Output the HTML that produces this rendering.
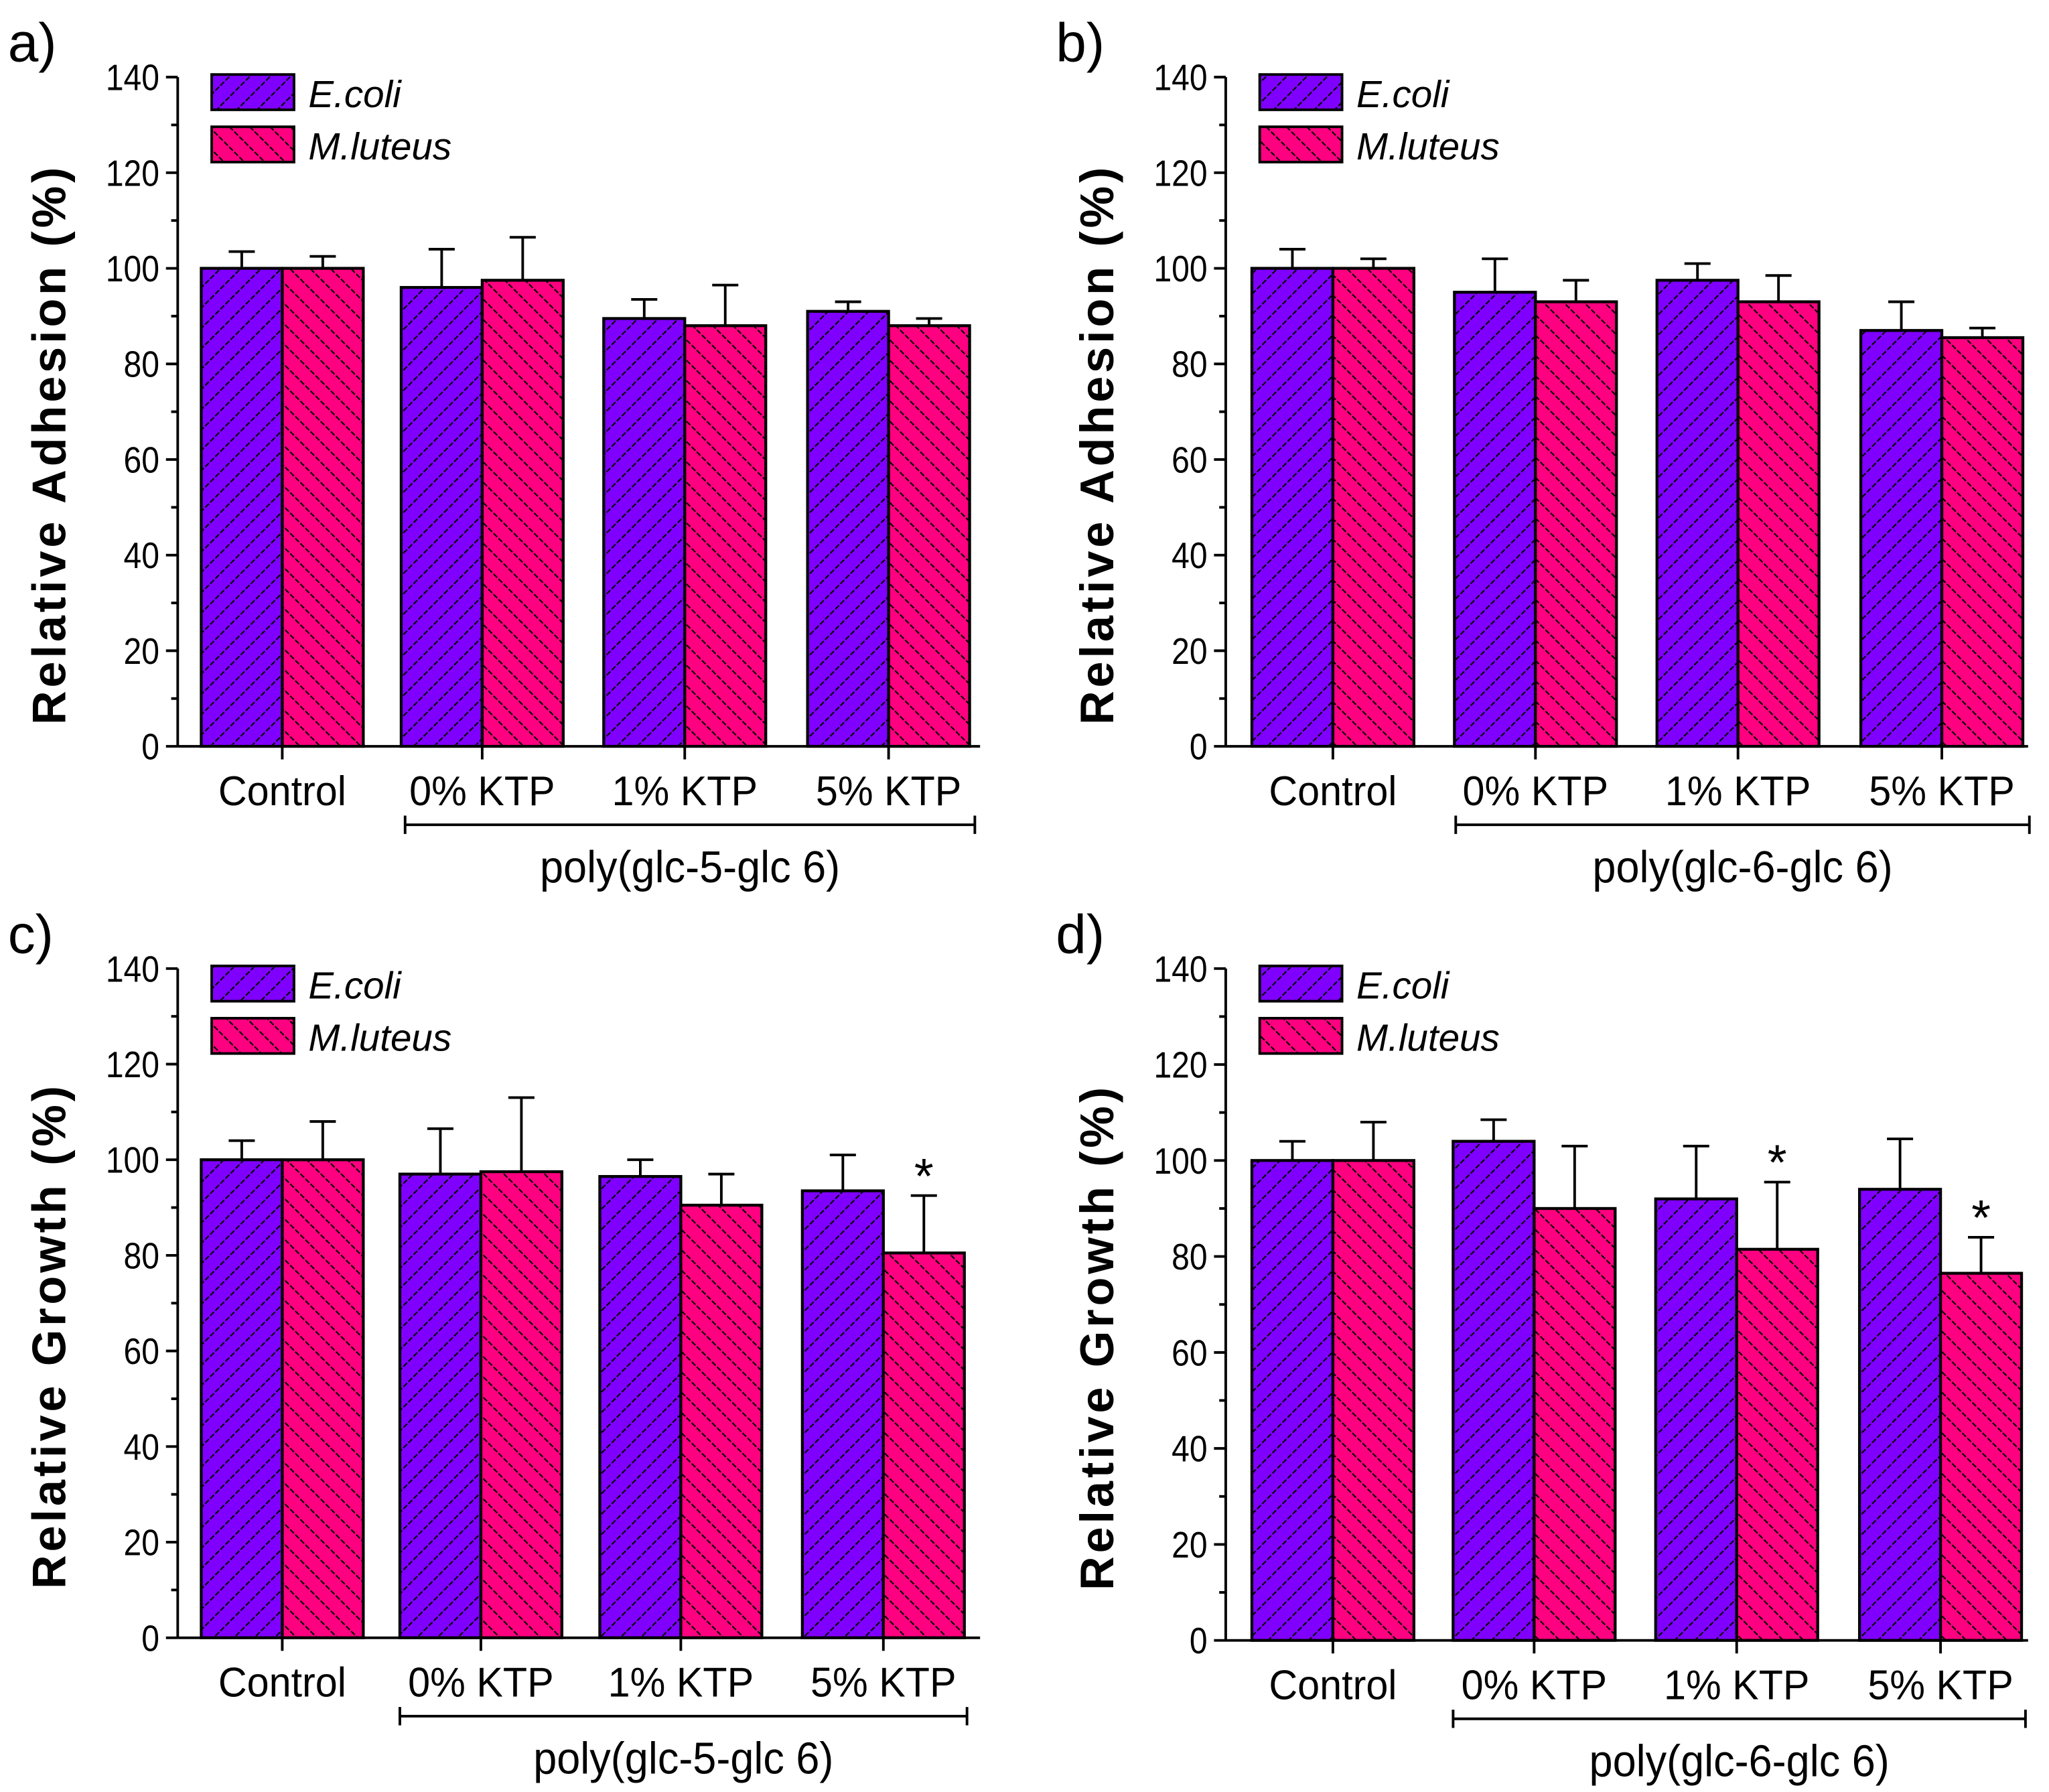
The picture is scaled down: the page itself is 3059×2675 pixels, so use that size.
<!DOCTYPE html>
<html><head><meta charset="utf-8"><style>
html,body{margin:0;padding:0;background:#fff}
svg{display:block}
text{font-family:"Liberation Sans",sans-serif;fill:#000}
</style></head><body>
<svg id="fig" width="3059" height="2675" viewBox="0 0 1568 1371" preserveAspectRatio="none" xmlns="http://www.w3.org/2000/svg">
<defs>
<pattern id="hp" patternUnits="userSpaceOnUse" width="11" height="11" patternTransform="rotate(45)"><rect width="11" height="11" fill="#8000FF"/><line x1="0" y1="0" x2="0" y2="11" stroke="#000" stroke-width="2.2" stroke-dasharray="4,1.5"/></pattern>
<pattern id="hm" patternUnits="userSpaceOnUse" width="11" height="11" patternTransform="rotate(-45)"><rect width="11" height="11" fill="#FF0080"/><line x1="0" y1="0" x2="0" y2="11" stroke="#000" stroke-width="2.2" stroke-dasharray="4,1.5"/></pattern>
</defs>
</svg>
<script>
const categories = ["Control","0% KTP","1% KTP","5% KTP"];
const yTicks = [0,20,40,60,80,100,120,140];
const seriesNames = ["E.coli","M.luteus"];
const aEcoli = [100,96,89.5,91];
const aEcoliTop = [103.5,104,93.5,93];
const aMlut = [100,97.5,88,88];
const aMlutTop = [102.5,106.5,96.5,89.5];
const bEcoli = [100,95,97.5,87];
const bEcoliTop = [104,102,101,93];
const bMlut = [100,93,93,85.5];
const bMlutTop = [102,97.5,98.5,87.5];
const cEcoli = [100,97,96.5,93.5];
const cEcoliTop = [104,106.5,100,101];
const cMlut = [100,97.5,90.5,80.5];
const cMlutTop = [108,113,97,92.5];
const cStars = [false,false,false,true];
const dEcoli = [100,104,92,94];
const dEcoliTop = [104,108.5,103,104.5];
const dMlut = [100,90,81.5,76.5];
const dMlutTop = [108,103,95.5,84];
const dStars = [false,false,true,true];
const noStars = [false,false,false,false];

const NS="http://www.w3.org/2000/svg";
const svg=document.getElementById('fig');
function mk(tag,attrs,parent,txt){const e=document.createElementNS(NS,tag);for(const k in attrs)e.setAttribute(k,attrs[k]);if(txt!==undefined)e.textContent=txt;(parent||svg).appendChild(e);return e;}

const panels=[
 {id:'a',x0:136,x1:750,y0:571,y1:59,centers:[216,369,524,680],e:aEcoli,et:aEcoliTop,m:aMlut,mt:aMlutTop,stars:noStars,title:"Relative Adhesion (%)",poly:"poly(glc-5-glc 6)",bx0:310,bx1:746},
 {id:'b',x0:938,x1:1552,y0:571,y1:59,centers:[1020,1175,1330,1486],e:bEcoli,et:bEcoliTop,m:bMlut,mt:bMlutTop,stars:noStars,title:"Relative Adhesion (%)",poly:"poly(glc-6-glc 6)",bx0:1114,bx1:1553},
 {id:'c',x0:136,x1:750,y0:1253,y1:741,centers:[216,368,521,676],e:cEcoli,et:cEcoliTop,m:cMlut,mt:cMlutTop,stars:cStars,title:"Relative Growth (%)",poly:"poly(glc-5-glc 6)",bx0:306,bx1:740},
 {id:'d',x0:938,x1:1552,y0:1255,y1:741,centers:[1020,1174,1329,1485],e:dEcoli,et:dEcoliTop,m:dMlut,mt:dMlutTop,stars:dStars,title:"Relative Growth (%)",poly:"poly(glc-6-glc 6)",bx0:1112,bx1:1550}
];
const bw=62;
panels.forEach(p=>{
 const g=mk('g',{});
 
 
 const ys=v=>p.y0-(v/140)*(p.y0-p.y1);
 const lab=mk('text',{x:p.x0-130,y:p.y1-12,'font-size':42},g,p.id+')');
 
 
 for(let i=0;i<categories.length;i++){
  const c=p.centers[i];
  const specs=[[p.e[i],p.et[i],c-bw,'url(#hp)','ecoli'],[p.m[i],p.mt[i],c,'url(#hm)','mluteus']];
  specs.forEach((s,j)=>{
   const yv=ys(s[0]),yt=ys(s[1]),cx=s[2]+bw/2;
   const el=mk('line',{x1:cx,x2:cx,y1:yv,y2:yt,stroke:'#000','stroke-width':2},g);
   
   
   const cap=mk('line',{x1:cx-10,x2:cx+10,y1:yt,y2:yt,stroke:'#000','stroke-width':2},g);
   
   
   const r=mk('rect',{x:s[2],y:yv,width:bw,height:p.y0-yv,fill:s[3],stroke:'#000','stroke-width':2.2},g);
   
   
   if(j===1&&p.stars[i]){
    const st=mk('text',{x:cx,y:yt-2,'font-size':38,'text-anchor':'middle'},g,'*');
    
    
   }
  });
  const tk=mk('line',{x1:c,x2:c,y1:p.y0,y2:p.y0+10,stroke:'#000','stroke-width':2},g);
  
  
  const t=mk('text',{x:c,y:p.y0+45,'font-size':32,'text-anchor':'middle',transform:`translate(${c},0) scale(0.95,1) translate(${-c},0)`},g,categories[i]);
  
  
 }
 const ya=mk('line',{x1:p.x0,x2:p.x0,y1:p.y0,y2:p.y1,stroke:'#000','stroke-width':2},g);
 
 
 const xa=mk('line',{x1:p.x0,x2:p.x1,y1:p.y0,y2:p.y0,stroke:'#000','stroke-width':2},g);
 
 
 yTicks.forEach(v=>{
  const y=ys(v);
  const l=mk('line',{x1:p.x0-9,x2:p.x0,y1:y,y2:y,stroke:'#000','stroke-width':2},g);
  
  
  const t=mk('text',{x:p.x0-14,y:y+10,'font-size':28,'text-anchor':'end',transform:`translate(${p.x0-14},0) scale(0.88,1) translate(${-(p.x0-14)},0)`},g,String(v));
  
  
  if(v<140){const ym=ys(v+10);
   const m=mk('line',{x1:p.x0-5,x2:p.x0,y1:ym,y2:ym,stroke:'#000','stroke-width':2},g);
   
   }
 });
 const tcy=(p.y0+p.y1)/2+25;
 const tx=p.x0-86;
 const yt=mk('text',{x:tx,y:tcy,'font-size':36,'font-weight':'bold','text-anchor':'middle','letter-spacing':'2.5',transform:`rotate(-90 ${tx} ${tcy})`},g,p.title);
 
 
 const by=p.y0+60;
 const br=mk('path',{d:`M${p.bx0},${by-7}V${by+7}M${p.bx0},${by}H${p.bx1}M${p.bx1},${by-7}V${by+7}`,stroke:'#000','stroke-width':2,fill:'none'},g);
 
 
 const pcx=(p.bx0+p.bx1)/2;
 const pl=mk('text',{x:pcx,y:by+44,'font-size':34,'text-anchor':'middle',transform:`translate(${pcx},0) scale(0.95,1) translate(${-pcx},0)`},g,p.poly);
 
 
 const lx=p.x0+26;
 [['url(#hp)',seriesNames[0]],['url(#hm)',seriesNames[1]]].forEach((s,k)=>{
  const ly=p.y1-2+k*40;
  const r=mk('rect',{x:lx,y:ly,width:63,height:27,fill:s[0],stroke:'#000','stroke-width':2},g);
  
  
  const t=mk('text',{x:lx+74,y:ly+25,'font-size':29,'font-style':'italic'},g,s[1]);
  
  
 });
});
</script>
</body></html>
